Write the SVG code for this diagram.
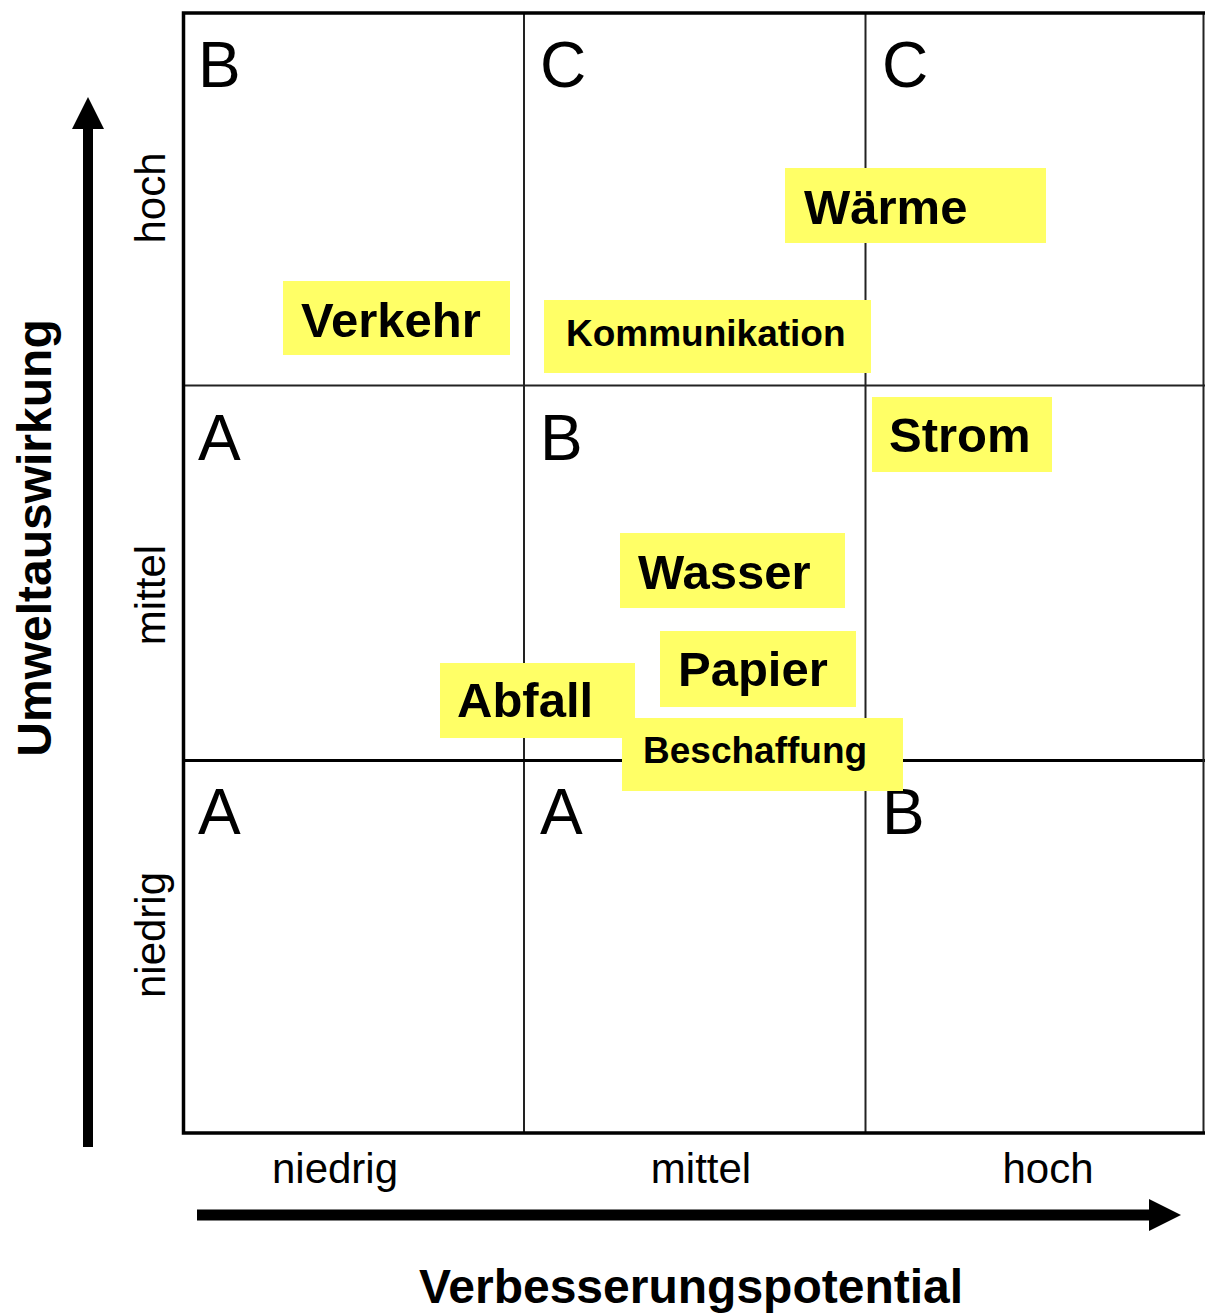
<svg xmlns="http://www.w3.org/2000/svg" width="1205" height="1313" viewBox="0 0 1205 1313">
<style>
.grid{stroke:#222;fill:none}
.cell{font-family:"Liberation Sans",Arial,sans-serif;font-size:64px;fill:#000}
.axis{font-family:"Liberation Sans",Arial,sans-serif;font-size:42px;fill:#000}
.title{font-family:"Liberation Sans",Arial,sans-serif;font-size:48px;font-weight:bold;fill:#000}
.box{fill:#FFFF66}
.lbl{font-family:"Liberation Sans",Arial,sans-serif;font-weight:bold;fill:#000}
.big{font-size:49px}
.small{font-size:37px}
</style>
<rect width="1205" height="1313" fill="#fff"/>
<g id="grid">
<line class="grid" x1="524" y1="12" x2="524" y2="1133" stroke-width="2"/>
<line class="grid" x1="865.5" y1="12" x2="865.5" y2="1133" stroke-width="2"/>
<line class="grid" x1="183" y1="385.5" x2="1205" y2="385.5" stroke-width="2"/>
<line x1="183" y1="760.5" x2="1205" y2="760.5" stroke="#000" stroke-width="3"/>
<line x1="1203.5" y1="12" x2="1203.5" y2="1133" stroke="#222" stroke-width="2"/>
<path d="M1205 13 H183.5 V1133 H1205" fill="none" stroke="#000" stroke-width="3.5"/>
</g>
<g id="cell-letters">
<text class="cell" x="198" y="87">B</text>
<text class="cell" x="540" y="87">C</text>
<text class="cell" x="882" y="87">C</text>
<text class="cell" x="198" y="460">A</text>
<text class="cell" x="540" y="460">B</text>
<text class="cell" x="198" y="834">A</text>
<text class="cell" x="540" y="834">A</text>
<text class="cell" x="882" y="834">B</text>
</g>
<g id="connectors">
<line x1="88" y1="1147" x2="88" y2="126" stroke="#000" stroke-width="10"/>
<polygon points="88,97 72,129 104,129" fill="#000"/>
<line x1="197" y1="1215" x2="1152" y2="1215" stroke="#000" stroke-width="11"/>
<polygon points="1181,1215 1149,1199 1149,1231" fill="#000"/>
</g>
<g id="axis-labels">
<text class="axis" x="335" y="1183" text-anchor="middle">niedrig</text>
<text class="axis" x="701" y="1183" text-anchor="middle">mittel</text>
<text class="axis" x="1048" y="1183" text-anchor="middle">hoch</text>
<text class="axis" text-anchor="middle" transform="translate(165,198) rotate(-90)">hoch</text>
<text class="axis" text-anchor="middle" transform="translate(165,595) rotate(-90)">mittel</text>
<text class="axis" text-anchor="middle" transform="translate(165,935) rotate(-90)">niedrig</text>
<text class="title" x="691" y="1303" text-anchor="middle">Verbesserungspotential</text>
<text class="title" text-anchor="middle" transform="translate(51,538) rotate(-90)">Umweltauswirkung</text>
</g>
<g id="node-verkehr">
<rect class="box" x="283" y="281" width="227" height="74"/>
<text class="lbl big" x="301" y="337">Verkehr</text>
</g>
<g id="node-waerme">
<rect class="box" x="785" y="168" width="261" height="75"/>
<text class="lbl big" x="804" y="224">Wärme</text>
</g>
<g id="node-kommunikation">
<rect class="box" x="544" y="300" width="327" height="73"/>
<text class="lbl small" x="566" y="346">Kommunikation</text>
</g>
<g id="node-strom">
<rect class="box" x="872" y="397" width="180" height="75"/>
<text class="lbl big" x="889" y="452">Strom</text>
</g>
<g id="node-wasser">
<rect class="box" x="620" y="533" width="225" height="75"/>
<text class="lbl big" x="638" y="589">Wasser</text>
</g>
<g id="node-papier">
<rect class="box" x="660" y="631" width="196" height="76"/>
<text class="lbl big" x="678" y="686">Papier</text>
</g>
<g id="node-abfall">
<rect class="box" x="440" y="663" width="195" height="75"/>
<text class="lbl big" x="457" y="717">Abfall</text>
</g>
<g id="node-beschaffung">
<rect class="box" x="622" y="718" width="281" height="73"/>
<text class="lbl small" x="643" y="763">Beschaffung</text>
</g>
</svg>
